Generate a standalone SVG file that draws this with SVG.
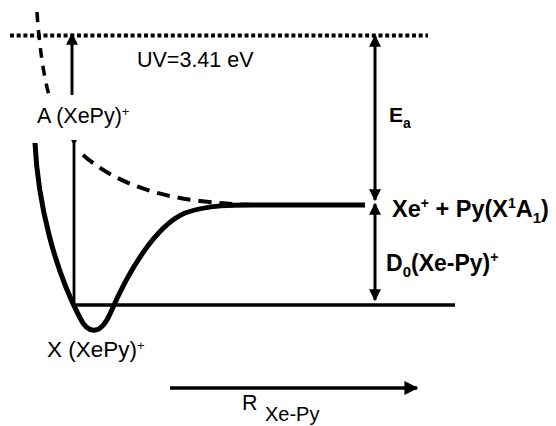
<svg xmlns="http://www.w3.org/2000/svg" width="556" height="426" viewBox="0 0 556 426">
<style>
.t{font-family:"Liberation Sans",Arial,sans-serif;fill:#000}
.b{font-weight:bold}
.ln{stroke:#000;fill:none}
</style>
<defs>
<marker id="ah" viewBox="0 0 10 10" refX="9" refY="5" markerWidth="4" markerHeight="4" orient="auto-start-reverse" markerUnits="strokeWidth">
<path d="M0,0 L10,5 L0,10 z" fill="#000"/>
</marker>
</defs>
<rect width="556" height="426" fill="#fff"/>
<g id="connectors">
<line class="ln" x1="10" y1="35.5" x2="428" y2="35.5" stroke-width="4" stroke-dasharray="4 2.7"/>
<path id="curveA-top" class="ln" d="M37,12 C39,45 44,78 49,95" stroke-width="3.5" stroke-dasharray="10 8"/>
<path id="curveA" class="ln" d="M83,155 C112,180 150,195 200,201 C225,204 245,205 258,205" stroke-width="4" stroke-dasharray="13 8"/>
<path id="curveX" class="ln" d="M35,143 C38,205 55,270 80,318 C88,334 100,336 110,314 C128,272 155,226 185,213 C210,204 240,205 260,205 L365,205" stroke-width="5"/>
<line class="ln" x1="75" y1="305" x2="455" y2="305" stroke-width="3.5"/>
<line class="ln" x1="72" y1="95" x2="72" y2="34" stroke-width="3" marker-end="url(#ah)"/>
<line class="ln" x1="74" y1="141" x2="74" y2="305" stroke-width="2.8"/>
<path d="M71,140 L77,140 L74,145 z" fill="#000"/>
<line class="ln" x1="375" y1="36" x2="375" y2="200" stroke-width="3" marker-start="url(#ah)" marker-end="url(#ah)"/>
<line class="ln" x1="375" y1="204" x2="375" y2="300" stroke-width="3" marker-start="url(#ah)" marker-end="url(#ah)"/>
<line class="ln" x1="170" y1="388" x2="417" y2="388" stroke-width="3.5" marker-end="url(#ah)"/>
</g>
<g id="label-uv"><text class="t" x="137" y="67" font-size="21.5">UV=3.41 eV</text></g>
<g id="label-A"><text class="t" x="37" y="123" font-size="21.5">A (XePy)<tspan font-size="13" dy="-7">+</tspan></text></g>
<g id="label-Ea"><text class="t b" x="389" y="122" font-size="21">E<tspan font-size="14" dy="6">a</tspan></text></g>
<g id="label-asym"><text class="t b" x="392" y="217" font-size="23.5">Xe<tspan font-size="14" dy="-9">+</tspan><tspan dy="9"> + Py(X</tspan><tspan font-size="14" dy="-9">1</tspan><tspan dy="9">A</tspan><tspan font-size="15" dy="6">1</tspan><tspan dy="-6">)</tspan></text></g>
<g id="label-D0"><text class="t b" x="386" y="271" font-size="23">D<tspan font-size="15" dy="6">0</tspan><tspan dy="-6">(Xe-Py)</tspan><tspan font-size="14" dy="-9">+</tspan></text></g>
<g id="label-X"><text class="t" x="47" y="357" font-size="22.5">X (XePy)<tspan font-size="13" dy="-7">+</tspan></text></g>
<g id="label-R"><text class="t" x="242" y="410" font-size="21.5">R</text><text class="t" x="265" y="421" font-size="20">Xe-Py</text></g>
</svg>
